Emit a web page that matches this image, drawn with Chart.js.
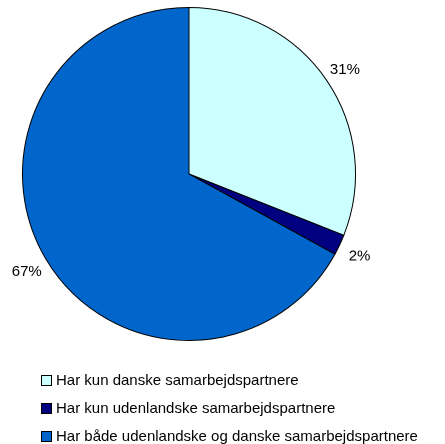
<!DOCTYPE html>
<html>
<head>
<meta charset="utf-8" />
<script src="https://cdn.jsdelivr.net/npm/chart.js"></script>
<style>
  body { margin: 0; background: #fff; font-family: "Liberation Sans", Arial, sans-serif; }
  #wrap { position: relative; width: 445px; height: 444px; }
  canvas { position: absolute; left: 0; top: 0; }
  .legend { position: absolute; left: 41px; top: 371px; font-size: 15px; color: #000; }
  .legend div { height: 28px; line-height: 18px; white-space: nowrap; }
  .legend span.box {
    display: inline-block; width: 9px; height: 9px; border: 1px solid #000;
    margin-right: 4px; vertical-align: -1px;
  }
</style>
</head>
<body>
<div id="wrap">
  <canvas id="pie" width="445" height="444" style="width:445px;height:444px"></canvas>
  <div class="legend" id="legend"></div>
</div>

<script>
  const categories = [
    "Har kun danske samarbejdspartnere",
    "Har kun udenlandske samarbejdspartnere",
    "Har både udenlandske og danske samarbejdspartnere"
  ];
  const shares = [31, 2, 67];
  const labels = ["31%", "2%", "67%"];
  const colors = ["#CCFFFF", "#000080", "#0066CC"];

  // legend
  document.getElementById("legend").innerHTML = categories
    .map((c, i) => `<div><span class="box" style="background:${colors[i]}"></span>${c}</div>`)
    .join("");

  // percentage labels outside the slices
  const outsideLabels = {
    id: "outsideLabels",
    afterDraw(chart) {
      const ctx = chart.ctx;
      const meta = chart.getDatasetMeta(0);
      ctx.save();
      ctx.font = '15px "Liberation Sans", Arial, sans-serif';
      ctx.fillStyle = "#000";
      ctx.textAlign = "center";
      ctx.textBaseline = "middle";
      meta.data.forEach((arc, i) => {
        const mid = (arc.startAngle + arc.endAngle) / 2;
        const r = arc.outerRadius + 22;
        ctx.fillText(labels[i], arc.x + Math.cos(mid) * r, arc.y + Math.sin(mid) * r + 2);
      });
      ctx.restore();
    }
  };

  new Chart(document.getElementById("pie").getContext("2d"), {
    type: "pie",
    data: {
      labels: categories,
      datasets: [{
        data: shares,
        backgroundColor: colors,
        borderColor: "#000",
        borderWidth: 1,
        borderJoinStyle: "miter"
      }]
    },
    options: {
      responsive: false,
      animation: false,
      devicePixelRatio: 2,
      layout: { padding: { left: 22, right: 89, top: 7, bottom: 103 } },
      plugins: { legend: { display: false }, tooltip: { enabled: false } }
    },
    plugins: [outsideLabels]
  });
</script>
</body>
</html>
